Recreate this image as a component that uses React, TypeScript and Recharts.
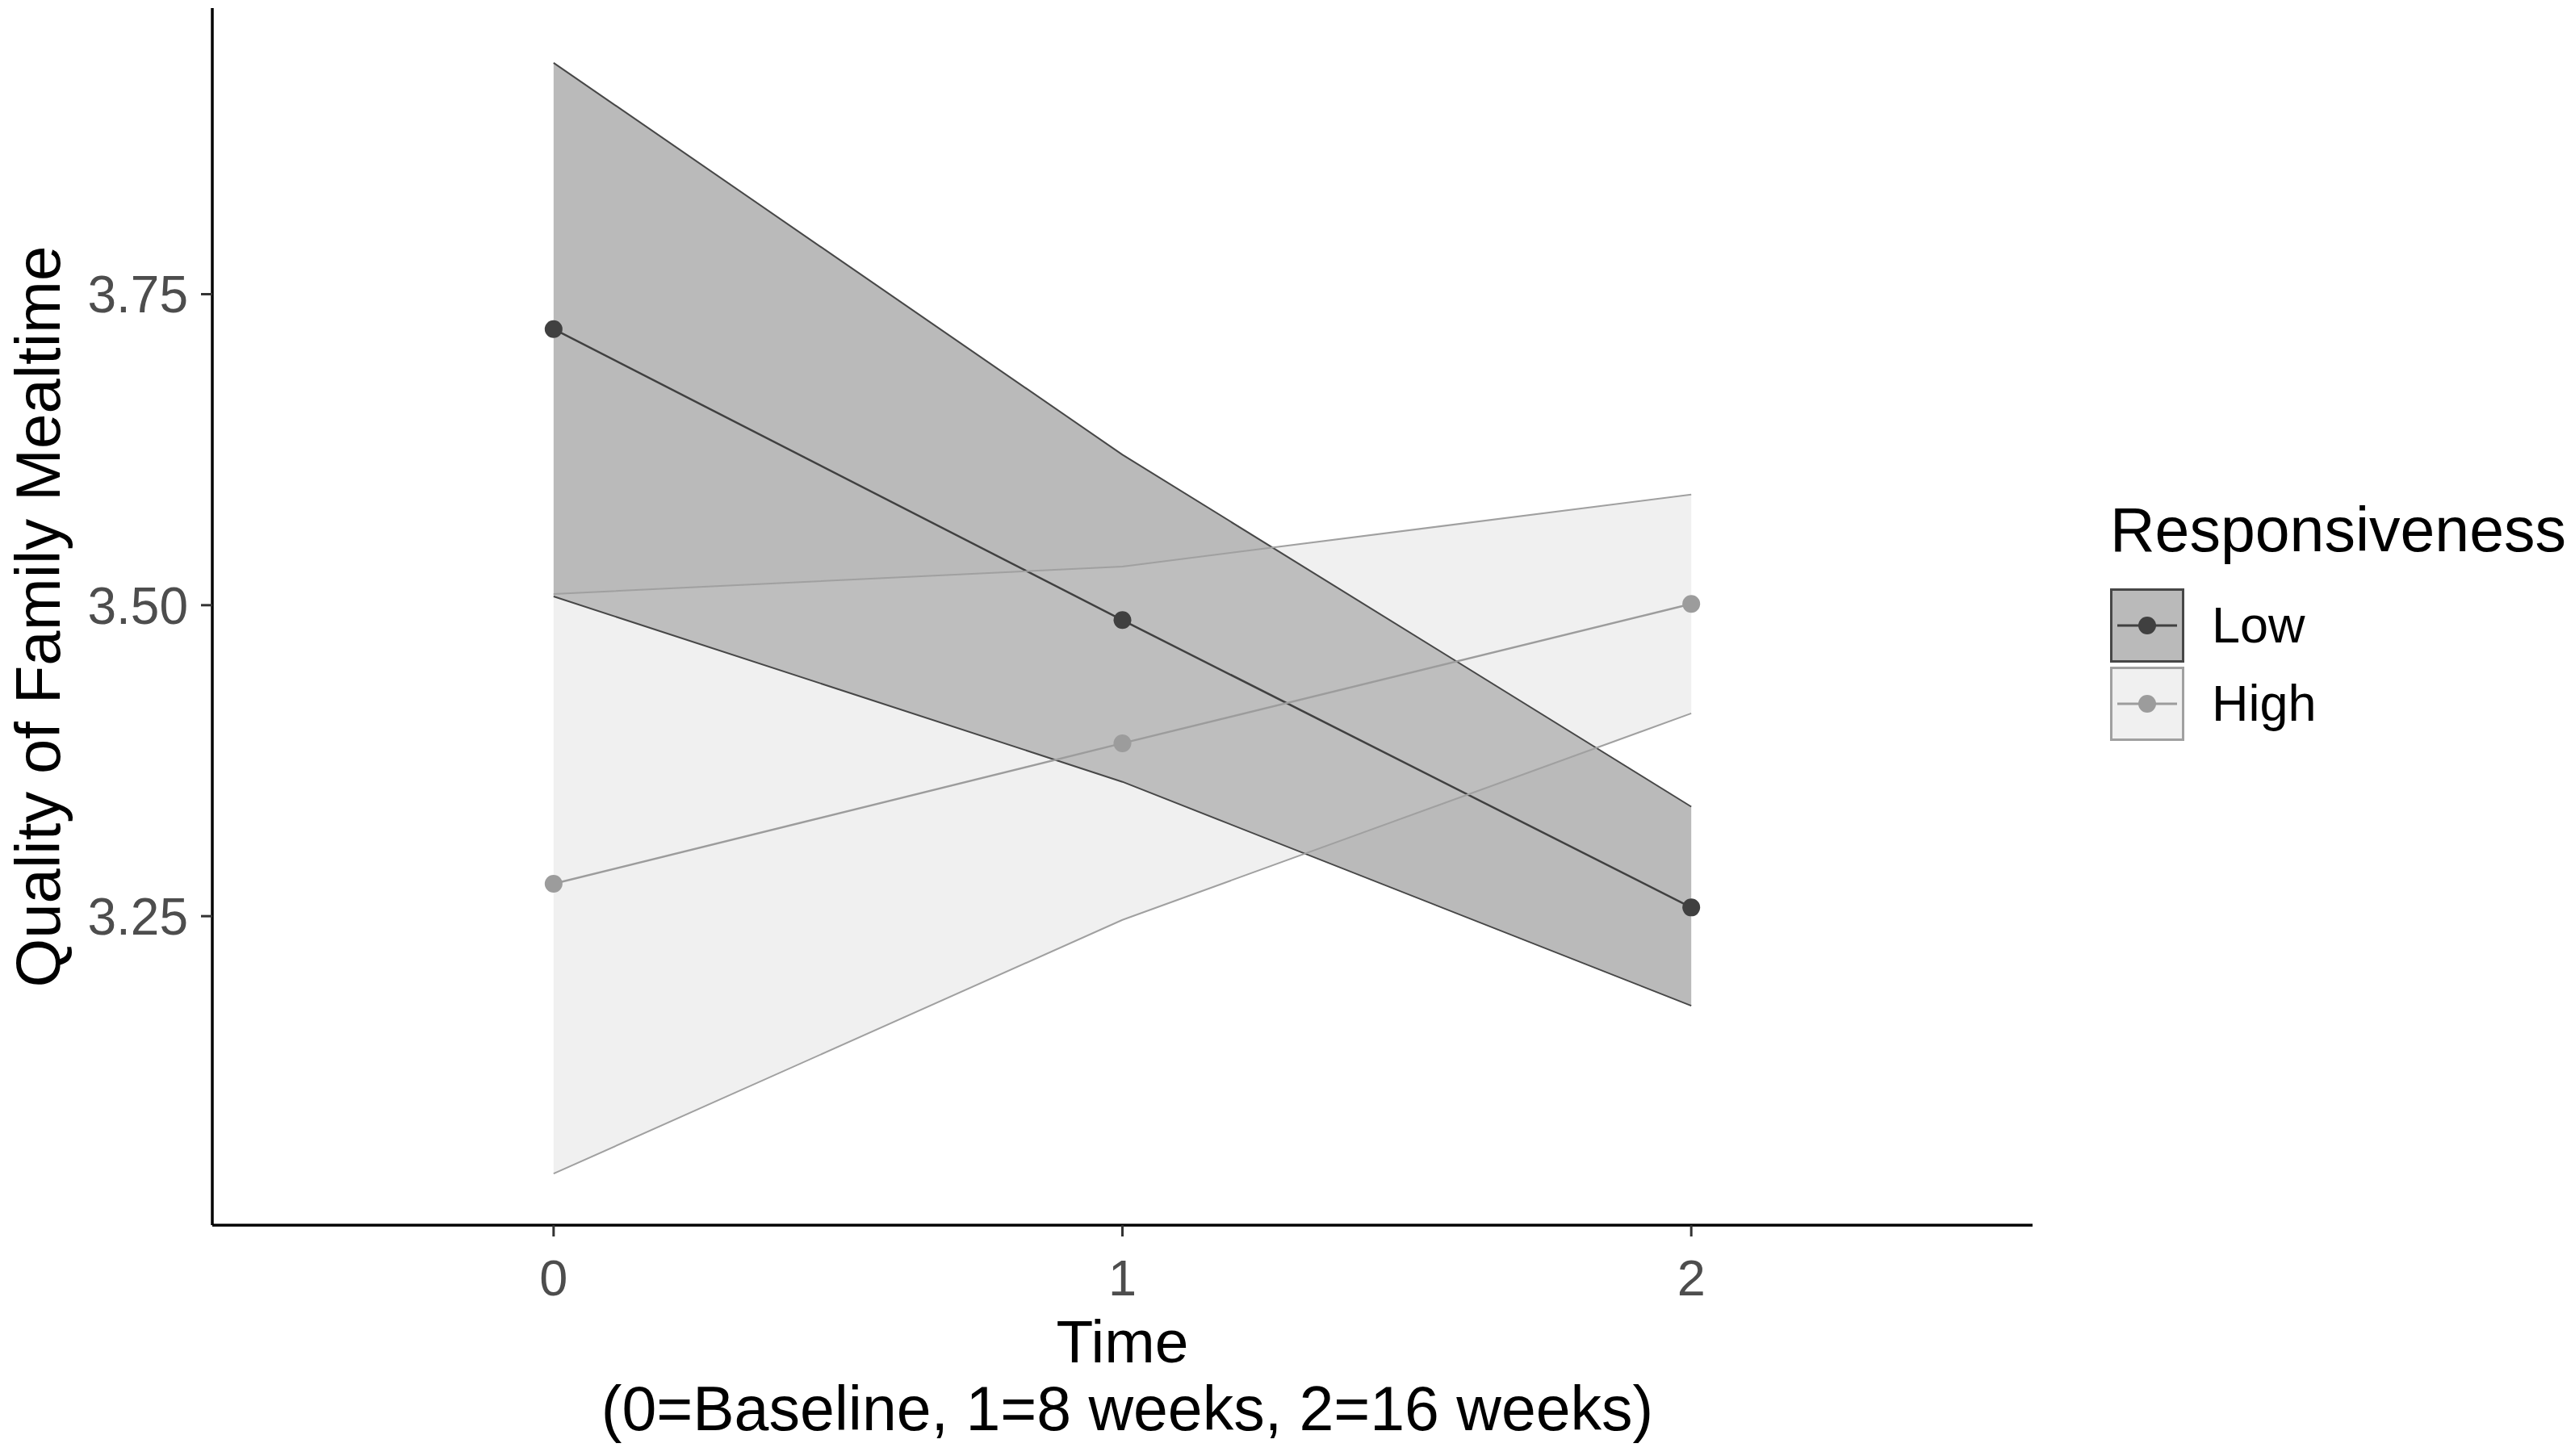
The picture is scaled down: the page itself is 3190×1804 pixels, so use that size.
import React from 'react';
import { ComposedChart, Area, Line, XAxis, YAxis } from 'recharts';

document.body.style.margin = '0';

const times = [0, 1, 2];
const timeTicks = [0, 1, 2];
const valueTicks = [3.25, 3.5, 3.75];

const lowMean = [3.722, 3.488, 3.257];
const lowLower = [3.507, 3.358, 3.178];
const lowUpper = [3.936, 3.621, 3.338];

const highMean = [3.276, 3.389, 3.501];
const highLower = [3.043, 3.247, 3.413];
const highUpper = [3.509, 3.531, 3.589];

const data = times.map((t, i) => ({
  time: t,
  lowMean: lowMean[i],
  lowBand: [lowLower[i], lowUpper[i]],
  lowLower: lowLower[i],
  lowUpper: lowUpper[i],
  highMean: highMean[i],
  highBand: [highLower[i], highUpper[i]],
  highLower: highLower[i],
  highUpper: highUpper[i],
}));

const font = '"Liberation Sans", Arial, sans-serif';

const groups = [
  { key: 'low', name: 'Low', line: '#404040', fill: '#BABABA', fillOpacity: 1, border: '#474747', keyFill: '#BABABA' },
  { key: 'high', name: 'High', line: '#9C9C9C', fill: 'rgb(201,201,201)', fillOpacity: 0.28, border: '#A0A0A0', keyFill: '#F0F0F0' },
];

const XTitle = ({ viewBox }: any) => {
  const cx = viewBox.x + viewBox.width / 2;
  return (
    <g fontFamily={font} fill="#000" textAnchor="middle">
      <text x={cx} y={1662} fontSize={75} dominantBaseline="central">Time</text>
      <text x={cx + 6} y={1745} fontSize={77} dominantBaseline="central">(0=Baseline, 1=8 weeks, 2=16 weeks)</text>
    </g>
  );
};

const YTitle = ({ viewBox }: any) => {
  const cy = viewBox.y + viewBox.height / 2;
  return (
    <text
      x={47}
      y={cy}
      transform={`rotate(-90 47 ${cy})`}
      fontFamily={font}
      fontSize={78}
      fill="#000"
      textAnchor="middle"
      dominantBaseline="central"
    >
      Quality of Family Mealtime
    </text>
  );
};

const LegendKey = ({ g }: any) => (
  <svg width={92} height={92} style={{ display: 'block' }}>
    <rect x={1.5} y={1.5} width={89} height={89} fill={g.keyFill} stroke={g.border} strokeWidth={3} />
    <line x1={9} y1={46} x2={83} y2={46} stroke={g.line} strokeWidth={3} />
    <circle cx={46} cy={46} r={11} fill={g.line} />
  </svg>
);

export default function App() {
  // ribbon, edges, then mean line for each group, Low first so High's ribbon sits over it
  const renderGroup = (g: any) => [
    <Area
      key={g.key + '-band'}
      type="linear"
      dataKey={g.key + 'Band'}
      fill={g.fill}
      fillOpacity={g.fillOpacity}
      stroke="none"
      isAnimationActive={false}
    />,
    <Line
      key={g.key + '-up'}
      type="linear"
      dataKey={g.key + 'Upper'}
      stroke={g.border}
      strokeWidth={2}
      dot={false}
      activeDot={false}
      isAnimationActive={false}
    />,
    <Line
      key={g.key + '-lo'}
      type="linear"
      dataKey={g.key + 'Lower'}
      stroke={g.border}
      strokeWidth={2}
      dot={false}
      activeDot={false}
      isAnimationActive={false}
    />,
    <Line
      key={g.key + '-mean'}
      type="linear"
      dataKey={g.key + 'Mean'}
      stroke={g.line}
      strokeWidth={2.5}
      dot={{ r: 11, fill: g.line, stroke: 'none' }}
      activeDot={false}
      isAnimationActive={false}
    />,
  ];

  return (
    <div style={{ position: 'relative', width: 3190, height: 1804, background: '#fff' }}>
      <ComposedChart width={3190} height={1804} data={data} margin={{ top: 10, right: 672, bottom: 0, left: 0 }}>
        <XAxis
          type="number"
          dataKey="time"
          domain={[-0.6, 2.6]}
          ticks={timeTicks}
          allowDataOverflow
          height={286}
          tickSize={14}
          tickMargin={28}
          axisLine={{ stroke: '#000', strokeWidth: 3.5 }}
          tickLine={{ stroke: '#333', strokeWidth: 3 }}
          tick={{ fontSize: 63, fill: '#4D4D4D', fontFamily: font }}
          label={<XTitle />}
        />
        <YAxis
          type="number"
          domain={[3.0016, 3.98]}
          ticks={valueTicks}
          allowDataOverflow
          width={263}
          tickSize={14}
          tickMargin={16}
          tickFormatter={(v: number) => v.toFixed(2)}
          axisLine={{ stroke: '#000', strokeWidth: 3.5 }}
          tickLine={{ stroke: '#333', strokeWidth: 3 }}
          tick={{ fontSize: 64, fill: '#4D4D4D', fontFamily: font }}
          label={<YTitle />}
        />
        {groups.map(renderGroup)}
      </ComposedChart>

      <div style={{ position: 'absolute', left: 2614, top: 618, fontFamily: font, color: '#000' }}>
        <div style={{ fontSize: 77, lineHeight: '77px', whiteSpace: 'nowrap' }}>Responsiveness</div>
        <div style={{ marginTop: 31 }}>
          {groups.map((g) => (
            <div key={g.key} style={{ display: 'flex', alignItems: 'center', height: 97 }}>
              <LegendKey g={g} />
              <span style={{ fontSize: 63, marginLeft: 34, lineHeight: '63px' }}>{g.name}</span>
            </div>
          ))}
        </div>
      </div>
    </div>
  );
}
